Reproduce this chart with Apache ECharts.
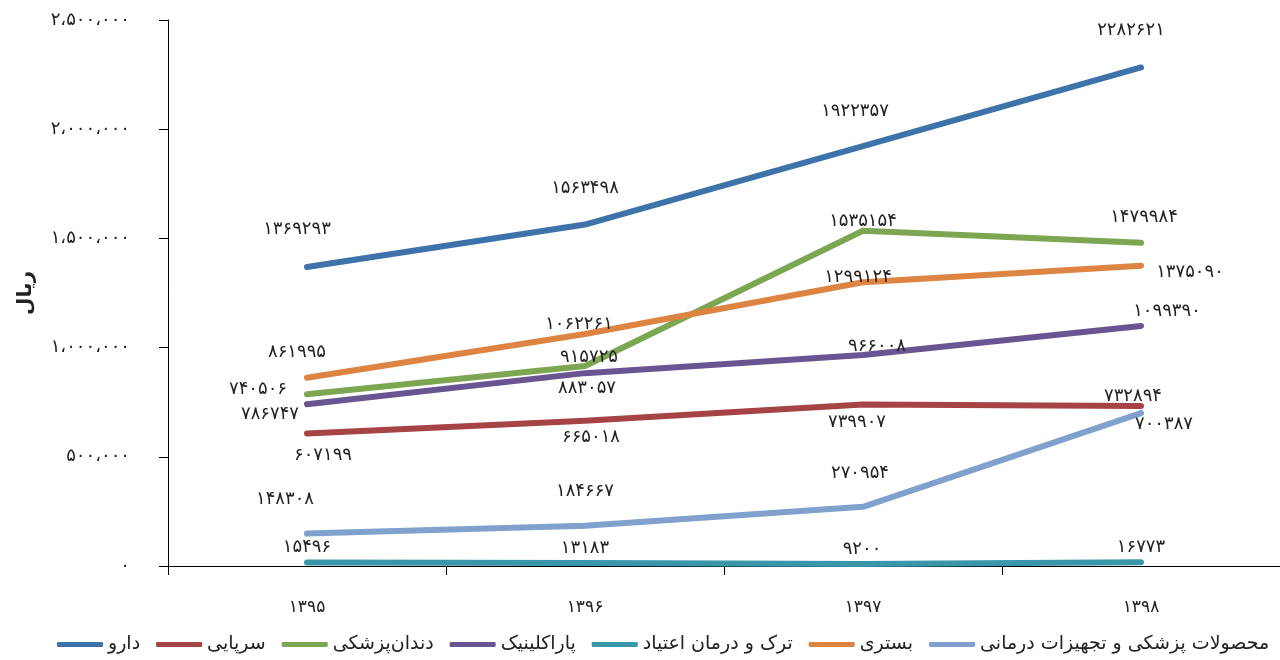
<!DOCTYPE html>
<html>
<head>
<meta charset="utf-8">
<script src="https://cdn.jsdelivr.net/npm/echarts@6/dist/echarts.min.js"></script>
<style>html,body{margin:0;padding:0;background:#fff}#c{width:1280px;height:660px}</style>
</head>
<body>
<div id="c"></div>
<script>
const categories = [1395, 1396, 1397, 1398];
const seriesNames = ['دارو', 'سرپایی', 'دندان\u200cپزشکی', 'پاراکلینیک', 'ترک و درمان اعتیاد', 'بستری', 'محصولات پزشکی و تجهیزات درمانی'];
const daru = [1369293, 1563498, 1922357, 2282621];
const sarpayi = [607199, 665018, 739907, 732894];
const dandan = [786747, 915725, 1535154, 1479984];
const paraclinic = [740506, 883057, 966008, 1099390];
const tark = [15496, 13183, 9200, 16773];
const bastari = [861995, 1062261, 1299124, 1375090];
const mahsoolat = [148308, 184667, 270954, 700387];
const yTicks = [0, 500000, 1000000, 1500000, 2000000, 2500000];

const colors = ['#3D72AA', '#A64344', '#7DA652', '#6A5593', '#3A96A9', '#DD8443', '#80A1CD'];
// label offsets (pixel), relative to the point centre
const labelOffsets = [
  [[-10,-38],[0,-36],[-8,-35],[-10,-37]],
  [[16,22],[6,17],[-6,18],[-8,-10]],
  [[-37,20],[4,-9],[0,-9],[3,-25]],
  [[-49,-15],[2,15],[14,-9],[26,-15]],
  [[0,-15],[0,-15],[-1,-15],[0,-15]],
  [[-10,-25],[-6,-10],[-5,-5],[49,7]],
  [[-22,-34],[0,-34],[-3,-33],[23,11]]
];
const FONT = "'DejaVu Sans', sans-serif";
const fa = s => String(s).replace(/\d/g, d => '۰۱۲۳۴۵۶۷۸۹'[d]);
const faSep = v => fa(String(v).replace(/\B(?=(\d{3})+(?!\d))/g, '،'));

const allData = [daru, sarpayi, dandan, paraclinic, tark, bastari, mahsoolat];
const chart = echarts.init(document.getElementById('c'));
chart.setOption({
  animation: false,
  color: colors,
  textStyle: { fontFamily: FONT },
  grid: { left: 168, right: -7, top: 20, bottom: 94 },
  legend: {
    data: seriesNames,
    bottom: 1,
    left: 52,
    icon: 'roundRect',
    itemWidth: 46,
    itemHeight: 5,
    itemGap: 16,
    textStyle: { fontSize: 19, color: '#222', fontFamily: FONT }
  },
  xAxis: {
    type: 'category',
    data: categories,
    boundaryGap: true,
    axisLine: { lineStyle: { color: '#000', width: 1 } },
    axisTick: { show: true, length: 9, lineStyle: { color: '#000' } },
    axisLabel: { margin: 33, fontSize: 17, color: '#222', formatter: v => fa(v) },
    splitLine: { show: false }
  },
  yAxis: {
    type: 'value',
    min: 0, max: 2500000, interval: 500000,
    name: 'ریال',
    nameLocation: 'middle',
    nameGap: 132,
    nameRotate: 90,
    nameTextStyle: { fontSize: 20, fontWeight: 'bold', color: '#222' },
    axisLine: { show: true, lineStyle: { color: '#000', width: 1 } },
    axisTick: { show: true, length: 9, lineStyle: { color: '#000' } },
    axisLabel: { margin: 38, fontSize: 18, color: '#222', formatter: v => faSep(v) },
    splitLine: { show: false }
  },
  series: seriesNames.map((name, i) => ({
    name,
    type: 'line',
    data: allData[i].map((v, j) => ({
      value: v,
      label: { offset: labelOffsets[i][j] }
    })),
    symbol: 'circle',
    symbolSize: 1,
    showSymbol: true,
    lineStyle: { width: 6, cap: 'round', join: 'round', color: colors[i] },
    itemStyle: { color: colors[i] },
    label: {
      show: true,
      position: 'inside',
      fontSize: 18,
      color: '#222',
      fontFamily: FONT,
      formatter: p => fa(p.value)
    }
  }))
});
</script>
</body>
</html>
